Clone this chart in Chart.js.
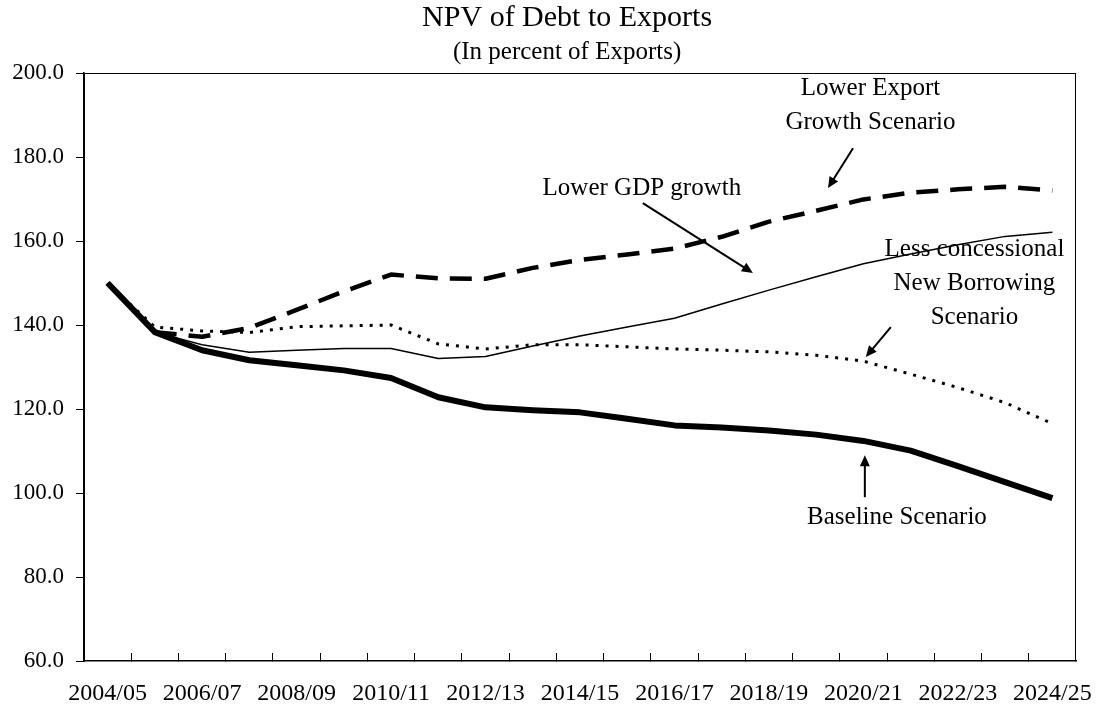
<!DOCTYPE html>
<html>
<head>
<meta charset="utf-8">
<script src="https://cdn.jsdelivr.net/npm/chart.js@4.4.1/dist/chart.umd.min.js"></script>
<style>
  html, body { margin: 0; padding: 0; background: #fff; }
</style>
</head>
<body>
<canvas id="chart" width="1101" height="715"></canvas>
<script>
const years = [
  '2004/05', '2005/06', '2006/07', '2007/08', '2008/09', '2009/10', '2010/11',
  '2011/12', '2012/13', '2013/14', '2014/15', '2015/16', '2016/17', '2017/18',
  '2018/19', '2019/20', '2020/21', '2021/22', '2022/23', '2023/24', '2024/25'
];
const baseline = [150, 138.3, 134, 131.6, 130.4, 129.2, 127.4, 122.8, 120.4, 119.7, 119.2,
  117.7, 116.1, 115.6, 114.9, 113.9, 112.4, 110.1, 106.4, 102.6, 98.8];
const lowerGdp = [150, 138.3, 135.3, 133.5, 134, 134.4, 134.4, 132, 132.5, 135, 137.4,
  139.5, 141.6, 145, 148.3, 151.5, 154.6, 156.9, 159.1, 161.1, 162.1];
const lowerExport = [150, 138.3, 137.2, 139.3, 143.6, 148, 152, 151.1, 151, 153.6, 155.5,
  156.8, 158.2, 161, 164.6, 167.2, 169.9, 171.5, 172.3, 172.9, 172];
const lessConcessional = [150, 139.5, 138.6, 138.2, 139.6, 139.8, 140, 135.5, 134.3, 135.3, 135.3,
  134.8, 134.3, 134, 133.6, 132.8, 131.4, 128.3, 125.1, 121.5, 116.5];
const yTicks = [60, 80, 100, 120, 140, 160, 180, 200];

// callouts: text lines anchored at (category index, value), arrow from -> to
const notes = [
  { lines: ['Lower Export', 'Growth Scenario'], at: [16.15, 196.4], arrow: [[15.78, 182.1], [15.25, 172.6]] },
  { lines: ['Lower GDP growth'], at: [11.31, 172.6], arrow: [[11.33, 169], [13.66, 152.4]] },
  { lines: ['Less concessional', 'New Borrowing', 'Scenario'], at: [18.35, 157.9], arrow: [[16.58, 139.5], [16.05, 132.4]] },
  { lines: ['Baseline Scenario'], at: [16.71, 94.3], arrow: [[16.03, 99], [16.03, 109]] },
];

const serif = "'Times New Roman', 'Liberation Serif', serif";

function arrow(ctx, x1, y1, x2, y2) {
  const a = Math.atan2(y2 - y1, x2 - x1);
  const len = 11, w = 5;
  ctx.beginPath();
  ctx.moveTo(x1, y1);
  ctx.lineTo(x2 - len * Math.cos(a) * 0.7, y2 - len * Math.sin(a) * 0.7);
  ctx.stroke();
  ctx.beginPath();
  ctx.moveTo(x2, y2);
  ctx.lineTo(x2 - len * Math.cos(a) + w * Math.sin(a), y2 - len * Math.sin(a) - w * Math.cos(a));
  ctx.lineTo(x2 - len * Math.cos(a) - w * Math.sin(a), y2 - len * Math.sin(a) + w * Math.cos(a));
  ctx.closePath();
  ctx.fill();
}

const decor = {
  id: 'decor',
  afterDraw(chart) {
    const { ctx, chartArea: area, scales: { x, y } } = chart;
    ctx.save();
    // frame
    ctx.strokeStyle = '#000';
    ctx.lineWidth = 1;
    ctx.strokeRect(area.left + 0.5, area.top + 0.5, area.width - 1, area.height - 1);

    // titles
    ctx.fillStyle = '#000';
    ctx.textAlign = 'center';
    ctx.textBaseline = 'middle';
    const cx = area.left + area.width * 0.487;
    ctx.font = `30px ${serif}`;
    ctx.fillText('NPV of Debt to Exports', cx, 18);
    ctx.font = `25px ${serif}`;
    ctx.fillText('(In percent of Exports)', cx, 52);

    // callouts
    ctx.font = `25px ${serif}`;
    ctx.lineWidth = 2;
    notes.forEach(n => {
      const px = x.getPixelForValue(n.at[0]);
      const py = y.getPixelForValue(n.at[1]);
      n.lines.forEach((t, i) => ctx.fillText(t, px, py + i * 34));
      const [a, b] = n.arrow;
      arrow(ctx, x.getPixelForValue(a[0]), y.getPixelForValue(a[1]),
        x.getPixelForValue(b[0]), y.getPixelForValue(b[1]));
    });
    ctx.restore();
  }
};

const line = (label, data, width, dash) => ({
  label, data,
  borderColor: '#000',
  borderWidth: width,
  borderDash: dash || [],
  pointRadius: 0,
  tension: 0,
  fill: false,
});

new Chart(document.getElementById('chart'), {
  type: 'line',
  data: {
    labels: years,
    datasets: [
      line('Lower Export Growth Scenario', lowerExport, 4.5, [22, 12]),
      line('Less concessional New Borrowing Scenario', lessConcessional, 3, [3, 7]),
      line('Lower GDP growth', lowerGdp, 1.5),
      line('Baseline Scenario', baseline, 6),
    ],
  },
  options: {
    responsive: false,
    animation: false,
    devicePixelRatio: 1,
    layout: { padding: { top: 73, right: 25, left: 0, bottom: 0 } },
    elements: { line: { borderJoinStyle: 'round', borderCapStyle: 'butt' } },
    plugins: { legend: { display: false }, tooltip: { enabled: false } },
    scales: {
      x: {
        offset: true,
        grid: { offset: true, drawOnChartArea: false, tickLength: -8, color: '#000', lineWidth: 1 },
        border: { color: '#000', width: 1.5 },
        ticks: {
          autoSkip: false,
          maxRotation: 0,
          padding: 26,
          color: '#000',
          font: { family: serif, size: 24 },
          callback: (v, i) => (i % 2 === 0 ? years[i] : ''),
        },
        afterFit: (s) => { s.height = 54; s.paddingLeft = 0; s.paddingRight = 0; },
      },
      y: {
        min: 60,
        max: 200,
        afterBuildTicks: (s) => { s.ticks = yTicks.map(v => ({ value: v })); },
        grid: { drawOnChartArea: false, tickLength: 8, color: '#000', lineWidth: 1 },
        border: { color: '#000', width: 1.5 },
        ticks: {
          padding: 12,
          color: '#000',
          font: { family: serif, size: 23 },
          callback: (v) => Number(v).toFixed(1),
        },
        afterFit: (s) => { s.width = 84; },
      },
    },
  },
  plugins: [decor],
});
</script>
</body>
</html>
